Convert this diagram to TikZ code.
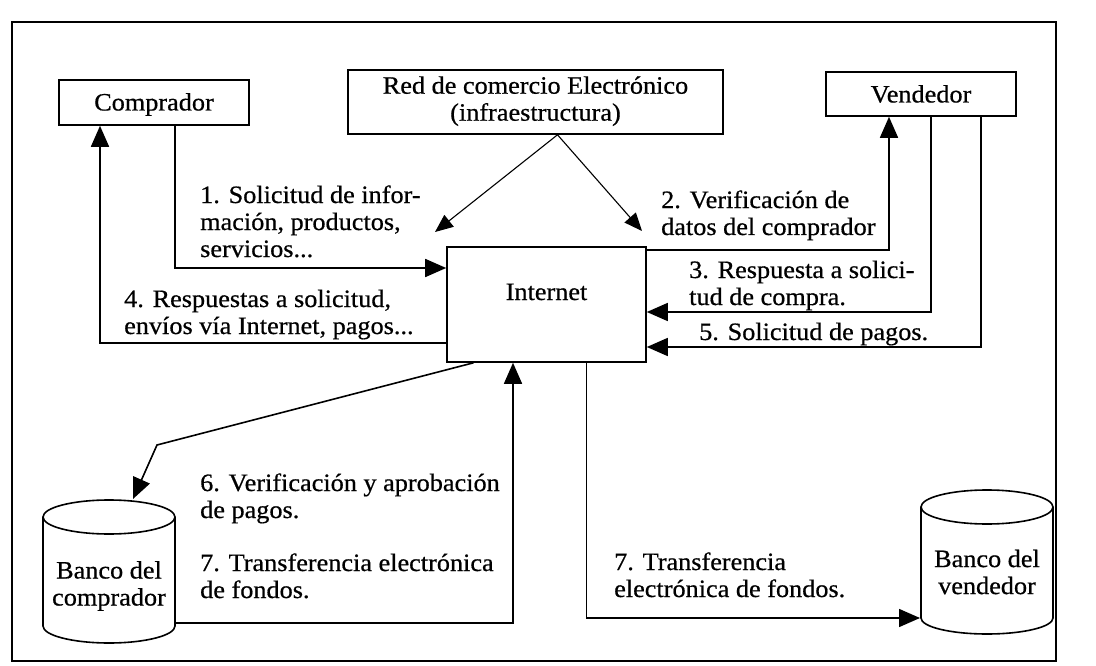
\documentclass[tikz,border=0pt]{standalone}
\usepackage{fontspec}
\setmainfont{Liberation Serif}[FakeStretch=1.05,FakeBold=0.6]
\usetikzlibrary{arrows.meta}
\begin{document}
\begin{tikzpicture}[x=1pt,y=-1pt,
  font=\fontsize{25}{27}\selectfont,
  box/.style={draw, line width=1.6pt, inner sep=0pt},
  arr/.style={line width=1.6pt, -{Triangle[length=21pt,width=18pt]}},
  thinarr/.style={line width=1.1pt, -{Triangle[length=18pt,width=15pt]}},
  lbl/.style={anchor=base west, align=left, inner sep=0pt},
  cyl/.style={line width=1.6pt}]
\useasboundingbox (0,0) rectangle (1096,666);
\draw[line width=1.8pt] (12,22) rectangle (1056,661);

% boxes
\node[box, minimum width=190pt, minimum height=45pt, text height=18pt, text depth=2pt] (comp) at (154,102.5) {Comprador};
\node[box, minimum width=375pt, minimum height=64pt, align=center] (red) at (535.5,102) {Red de comercio Electrónico\\(infraestructura)\\[-20pt]\mbox{}};
\node[box, minimum width=190pt, minimum height=44pt] (vend) at (921,94) {Vendedor};
\node[box, minimum width=199pt, minimum height=115pt, text height=16pt, text depth=25pt] (inet) at (546.5,304.5) {Internet};

% cylinders
\node[inner sep=0pt, align=center, minimum width=132pt, minimum height=109pt] (bc) at (109,586) {Banco del\\comprador};
\draw[cyl] (43,517) -- (43,626) arc[start angle=180,end angle=360,x radius=66pt,y radius=17pt] -- (175,517);
\draw[cyl] (109,517) ellipse[x radius=66pt,y radius=17pt];
\node[inner sep=0pt, align=center, minimum width=132pt, minimum height=111pt] (bv) at (987,572) {Banco del\\vendedor};
\draw[cyl] (921,507) -- (921,618) arc[start angle=180,end angle=360,x radius=66pt,y radius=16pt] -- (1053,507);
\draw[cyl] (987,507) ellipse[x radius=66pt,y radius=17pt];

% helper coordinates
\coordinate (y1) at (0,268);
\coordinate (y2) at (0,250);
\coordinate (y3) at (0,312);
\coordinate (y4) at (0,343);
\coordinate (y5) at (0,347);
\coordinate (t1) at (435,232);
\coordinate (t2) at (642,231);
\coordinate (k6) at (157,445);
\coordinate (bctop) at (133,499);
\coordinate (bcr) at (175,623);
\coordinate (bvl) at (920,618);

% connectors
\draw[arr] ([xshift=21pt]comp.south) |- (inet.west |- y1);
\draw[arr] (inet.west |- y4) -| ([xshift=-54pt]comp.south);
\draw[arr] (inet.east |- y2) -| ([xshift=-32pt]vend.south);
\draw[arr] ([xshift=10pt]vend.south) |- (inet.east |- y3);
\draw[arr] ([xshift=60pt]vend.south) |- (inet.east |- y5);
\draw[thinarr] ([xshift=22pt]red.south) -- (t1);
\draw[thinarr] ([xshift=22pt]red.south) -- (t2);
\draw[arr] ([xshift=-73pt]inet.south) -- (k6) -- (bctop);
\draw[arr] (bcr) -| ([xshift=-33.5pt]inet.south);
\draw[arr] ([xshift=40pt]inet.south) |- (bvl);

% labels (base anchor = baseline of last line)
\node[lbl] (l1) at (200,257) {1. Solicitud de infor-\\mación, productos,\\servicios...};
\node[lbl] (l4) at (124,334) {4. Respuestas a solicitud,\\envíos vía Internet, pagos...};
\node[lbl] (l2) at (661,235) {2. Verificación de\\datos del comprador};
\node[lbl] (l3) at (689,305) {3. Respuesta a solici-\\tud de compra.};
\node[lbl] (l5) at (699,340) {5. Solicitud de pagos.};
\node[lbl] (l6) at (200,518) {6. Verificación y aprobación\\de pagos.};
\node[lbl] (l7a) at (200,598) {7. Transferencia electrónica\\de fondos.};
\node[lbl] (l7b) at (614,597) {7. Transferencia\\electrónica de fondos.};
\end{tikzpicture}
\end{document}
